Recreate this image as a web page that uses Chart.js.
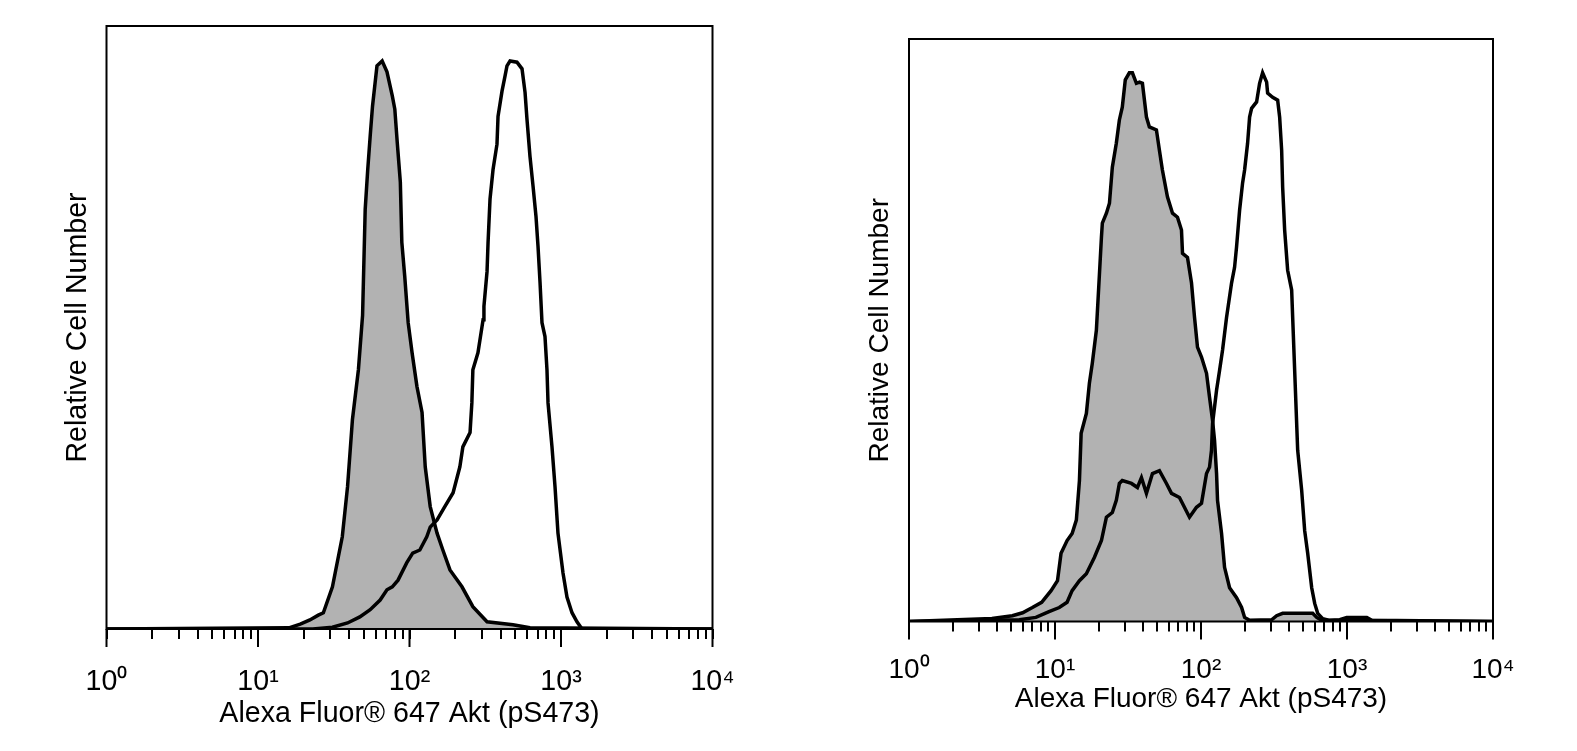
<!DOCTYPE html>
<html>
<head>
<meta charset="utf-8">
<script src="https://cdn.jsdelivr.net/npm/chart.js@4.4.1/dist/chart.umd.min.js"></script>
<style>
  body { margin: 0; background: #fff; }
  canvas { position: absolute; top: 0; }
  #left { left: 0; }
  #right { left: 800px; }
</style>
</head>
<body>
<canvas id="left" width="800" height="751"></canvas>
<canvas id="right" width="777" height="751"></canvas>
<script>
// tick labels for the decades of the log axis
var decadeLabels = ['10\u2070', '10\u00b9', '10\u00b2', '10\u00b3', '10\u2074'];
var decades = [1, 10, 100, 1000, 10000];

// left panel: control (filled) and stimulated (open) histograms
var leftCtrlX = [1, 16, 19, 22, 25, 27, 31, 36, 39, 42, 46, 49, 51, 53, 55, 57, 61, 66, 71, 77,
    80, 83, 87, 89, 93, 98, 104, 112, 121, 127, 137, 152, 166, 185, 222, 262, 325, 482, 624, 10000];
var leftCtrlY = [0, 0.2, 0.8, 1.5, 2.3, 2.7, 7.0, 15.3, 23.6, 34.7, 43.0, 52.0, 69.6, 76.2, 81.7, 86.7, 93.4, 94.2, 92.4, 88.4,
    86.2, 80.7, 74.1, 64.1, 58.5, 50.8, 45.8, 40.2, 35.9, 26.9, 20.3, 15.9, 13.1, 9.8, 7.0, 3.7, 1.2, 0.7, 0.2, 0];
var leftStimX = [1, 23, 31, 39, 47, 55, 64, 71, 77, 84, 96, 105, 117, 130, 137, 152, 171, 194, 215, 225,
    251, 258, 262, 283, 306, 310, 325, 330, 340, 356, 378, 384, 408, 427, 440, 461, 512, 553, 579, 596,
    624, 654, 684, 705, 727, 749, 784, 808, 821, 872, 913, 955, 1031, 1095, 1182, 1275, 1376, 10000];
var leftStimY = [0, 0, 0.3, 1.0, 2.0, 3.2, 4.8, 6.5, 7.0, 8.1, 11.0, 12.6, 13.1, 15.3, 16.9, 18.1, 20.3, 22.6, 26.9, 30.2,
    32.6, 37.5, 43.0, 45.8, 51.3, 53.5, 59.3, 64.1, 71.3, 76.2, 80.4, 85.0, 89.2, 91.7, 93.4, 94.2, 94.0, 92.9, 89.0, 84.6,
    78.4, 73.4, 68.4, 63.5, 57.5, 50.8, 48.5, 43.0, 37.5, 30.2, 23.6, 15.9, 9.3, 5.3, 2.7, 1.2, 0, 0];

// right panel
var rightCtrlX = [1, 3.7, 5.1, 6.0, 7.0, 8.1, 9.4, 10.4, 11.0, 12.1, 13.1, 14.0, 14.7, 15.1, 16.4, 17.2, 18.0, 19.2, 20.1, 20.8,
    21.1, 22.5, 23.6, 24.7, 26.3, 27.6, 28.9, 30.3, 32.3, 33.9, 36.1, 37.9, 39.7, 42.3, 44.3, 49.5, 51.9, 54.4, 58.9, 63.8,
    69.0, 73.5, 74.7, 80.8, 86.1, 90.3, 94.6, 100.8, 109.1, 114.4, 120.0, 123.8, 127.8, 129.8, 138.3, 145.0, 156.9, 175.2, 189.7, 198.9,
    215.2, 304.6, 329.6, 362.4, 582.1, 620.1, 671.2, 10000];
var rightCtrlY = [0, 0.5, 1.0, 1.5, 2.4, 3.3, 5.3, 7.0, 11.7, 13.9, 15.1, 17.4, 24.2, 32.3, 35.7, 40.9, 44.3, 50.0, 59.1, 66.0,
    68.4, 70.1, 71.8, 78.0, 82.1, 86.1, 88.3, 93.0, 94.2, 94.2, 92.4, 92.6, 92.4, 86.6, 84.9, 84.4, 80.9, 77.5, 72.9, 70.1,
    69.4, 67.2, 63.2, 62.5, 58.1, 52.2, 47.1, 45.4, 42.6, 38.5, 34.5, 31.1, 25.4, 20.8, 15.1, 9.3, 5.8, 4.1, 2.4, 0.7,
    0.2, 0.3, 1.0, 1.4, 1.4, 0.7, 0.2, 0];
var rightStimX = [1, 5.7, 7.4, 9.1, 10.7, 12.1, 13.1, 14.7, 16.4, 18.6, 20.8, 22.5, 24.7, 26.3, 27.6, 28.9, 33.4, 36.7, 39.1, 42.3,
    46.5, 51.9, 58.0, 62.8, 71.2, 77.0, 83.4, 93.1, 100.8, 109.1, 114.4, 118.0, 120.0, 127.8, 134.0, 140.5, 149.6, 161.9, 169.8, 175.2,
    183.8, 192.7, 198.9, 208.5, 215.2, 222.1, 240.3, 252.0, 264.2, 281.5, 286.0, 309.5, 334.9, 345.7, 356.8, 362.4, 374.1, 392.2, 417.8, 424.5,
    438.1, 459.4, 489.3, 513.0, 538.0, 573.0, 600.8, 630.0, 681.6, 761.5, 892, 996, 1366, 1479, 10000];
var rightStimY = [0, 0.3, 0.7, 1.7, 2.4, 3.3, 5.3, 7.0, 8.2, 11.0, 13.9, 17.9, 18.7, 20.8, 23.7, 24.2, 23.7, 23.0, 24.7, 22.0,
    25.4, 25.9, 23.7, 22.0, 21.3, 19.6, 17.9, 19.6, 20.3, 25.4, 26.5, 29.4, 34.0, 39.7, 43.1, 46.6, 52.2, 58.1, 60.8, 64.3,
    70.6, 75.3, 77.5, 82.1, 86.6, 88.1, 89.2, 92.4, 94.2, 92.6, 90.7, 90.0, 89.5, 86.6, 80.9, 74.6, 67.2, 60.3, 56.9, 52.2,
    43.1, 29.4, 22.5, 15.6, 11.7, 5.8, 3.1, 1.4, 0.5, 0.2, 0.3, 0.7, 0.7, 0.2, 0];

var FONT = "'Liberation Sans', Arial, sans-serif";

// minor ticks 1..9 in each decade
var tickValues = [];
for (var d = 0; d < 4; d++) {
    for (var m = 1; m < 10; m++) tickValues.push(m * Math.pow(10, d));
}
tickValues.push(10000);

function points(xs, ys) {
    return xs.map(function (x, i) { return {x: x, y: ys[i]}; });
}

// box around the plot and the long decade ticks
var framePlugin = {
    id: 'frame',
    afterDraw: function (chart) {
        var ctx = chart.ctx, a = chart.chartArea, x = chart.scales.x;
        ctx.save();
        ctx.strokeStyle = '#000';
        ctx.lineWidth = 2;
        ctx.strokeRect(a.left, a.top, a.right - a.left, a.bottom - a.top);
        decades.forEach(function (v) {
            var px = x.getPixelForValue(v);
            ctx.beginPath();
            ctx.moveTo(px, a.bottom);
            ctx.lineTo(px, a.bottom + 18);
            ctx.stroke();
        });
        ctx.restore();
    }
};

function makeChart(id, ctrl, stim, s) {
    return new Chart(document.getElementById(id), {
        type: 'line',
        data: {
            datasets: [
                {
                    label: 'Stimulated',
                    data: stim,
                    borderColor: '#000',
                    borderWidth: 3.5,
                    pointRadius: 0,
                    fill: false
                },
                {
                    label: 'Control',
                    data: ctrl,
                    borderColor: '#000',
                    borderWidth: 3.5,
                    pointRadius: 0,
                    backgroundColor: '#b2b2b2',
                    fill: 'origin'
                }
            ]
        },
        options: {
            responsive: false,
            animation: false,
            layout: {padding: s.pad},
            plugins: {
                legend: {display: false},
                tooltip: {enabled: false},
                filler: {drawTime: 'beforeDatasetsDraw'}
            },
            scales: {
                x: {
                    type: 'logarithmic',
                    min: 1,
                    max: 10000,
                    afterBuildTicks: function (axis) {
                        axis.ticks = tickValues.map(function (v) { return {value: v}; });
                    },
                    ticks: {
                        autoSkip: false,
                        maxRotation: 0,
                        minRotation: 0,
                        color: '#000',
                        padding: s.tickPad,
                        font: {family: FONT, size: s.font, lineHeight: s.tickLH},
                        callback: function (v) {
                            var e = Math.log10(v);
                            return Math.abs(e - Math.round(e)) < 1e-9 ? decadeLabels[Math.round(e)] : '';
                        }
                    },
                    grid: {
                        drawOnChartArea: false,
                        color: '#000',
                        lineWidth: 2,
                        tickLength: 10
                    },
                    border: {display: false},
                    title: {
                        display: true,
                        text: 'Alexa Fluor\u00ae 647 Akt (pS473)',
                        color: '#000',
                        font: {family: FONT, size: s.font, lineHeight: 1},
                        padding: {top: s.titlePad, bottom: 0}
                    }
                },
                y: {
                    min: 0,
                    max: 100,
                    ticks: {display: false},
                    grid: {display: false, drawTicks: false},
                    border: {display: false},
                    title: {
                        display: true,
                        text: 'Relative Cell Number',
                        color: '#000',
                        font: {family: FONT, size: s.font, lineHeight: 1},
                        padding: {top: 0, bottom: s.yTitleGap}
                    }
                }
            }
        },
        plugins: [framePlugin]
    });
}

makeChart('left', points(leftCtrlX, leftCtrlY), points(leftStimX, leftStimY), {
    pad: {left: 63.7, right: 87.5, top: 26, bottom: 22.7},
    font: 28.6, tickLH: 1, tickPad: 28.7, titlePad: -25.3, yTitleGap: 14.2
});
makeChart('right', points(rightCtrlX, rightCtrlY), points(rightStimX, rightStimY), {
    pad: {left: 66, right: 84, top: 39, bottom: 38},
    font: 28, tickLH: 0.75, tickPad: 28, titlePad: -23.5, yTitleGap: 15
});
</script>
</body>
</html>
